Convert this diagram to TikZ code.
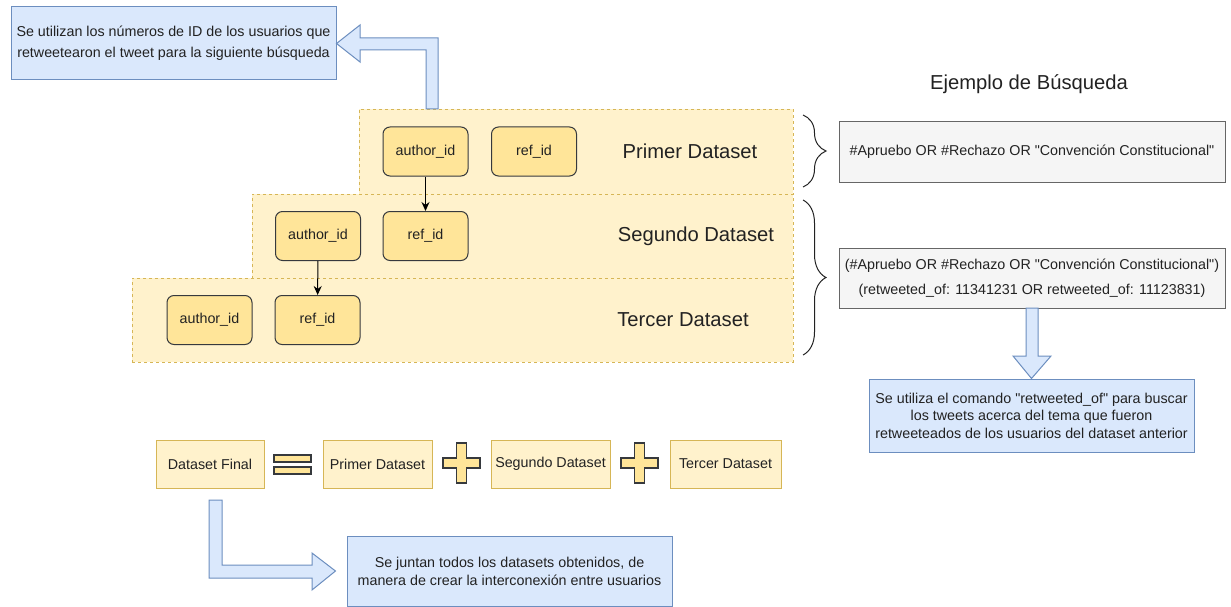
\documentclass[tikz,border=0pt]{standalone}
\usepackage{fontspec}
\setmainfont{Liberation Sans}
\usetikzlibrary{arrows.meta,decorations.pathreplacing}
\definecolor{bandfill}{HTML}{FFF2CC}
\definecolor{bandline}{HTML}{D6B656}
\definecolor{idfill}{HTML}{FFE599}
\definecolor{idline}{HTML}{36393D}
\definecolor{notefill}{HTML}{DAE8FC}
\definecolor{noteline}{HTML}{6C8EBF}
\definecolor{queryfill}{HTML}{F5F5F5}
\definecolor{queryline}{HTML}{666666}
\definecolor{txt}{HTML}{222222}
\tikzset{
  smalltxt/.style={font=\fontsize{14.3}{17.5}\selectfont, text=txt},
  bigtxt/.style={font=\fontsize{20.2}{24}\selectfont, text=txt},
  band/.style={draw=bandline, fill=bandfill, dash pattern=on 3pt off 3pt, line width=0.8pt, minimum height=84pt, inner sep=0pt},
  idbox/.style={smalltxt, draw=idline, fill=idfill, rounded corners=7pt, line width=1pt, minimum width=85pt, minimum height=49pt, inner sep=0pt},
  note/.style={smalltxt, draw=noteline, fill=notefill, line width=1pt, minimum width=325pt, minimum height=73pt, align=center, inner sep=0pt},
  query/.style={smalltxt, draw=queryline, fill=queryfill, line width=1pt, minimum width=386pt, minimum height=60pt, align=center, inner sep=0pt},
  sumbox/.style={smalltxt, draw=bandline, fill=bandfill, line width=1pt, minimum height=48pt, inner sep=0pt},
  fatarrow/.style={draw=noteline, fill=notefill, line width=1pt, line join=miter},
  opsign/.style={draw=idline, fill=idfill, line width=1.2pt},
  bracket/.style={draw=txt, line width=1pt, decorate, decoration={brace, amplitude=23pt}},
  link/.style={-{Stealth[length=9pt,width=8pt]}, line width=1pt, draw=black}
}
\begin{document}
\begin{tikzpicture}[x=1pt,y=-1pt]
  \useasboundingbox (0,0) rectangle (1231,607);

  % the three dataset bands
  \node[band, minimum width=434pt, minimum height=85pt] (band1) at (576,151.5) {};
  \node[band, minimum width=541pt] (band2) at (522.5,236) {};
  \node[band, minimum width=661pt] (band3) at (462.5,320) {};

  \node[idbox] (a1) at (425.5,151.5) {author\_id};
  \node[idbox] (r1) at (534,151.5) {ref\_id};
  \node[idbox] (a2) at (318,236) {author\_id};
  \node[idbox] (r2) at (425.5,236) {ref\_id};
  \node[idbox] (a3) at (209.5,320) {author\_id};
  \node[idbox] (r3) at (317.5,320) {ref\_id};
  \draw[link] (a1) -- (r2);
  \draw[link] (a2) -- (r3);

  \node[bigtxt] (lab1) at (690,151.5) {Primer Dataset};
  \node[bigtxt] (lab2) at (696,236) {Segundo Dataset};
  \node[bigtxt] (lab3) at (683,320) {Tercer Dataset};

  % top note and its arrow
  \node[note, font=\fontsize{14.3}{21}\selectfont] (n1) at (173.5,43.5) {Se utilizan los números de ID de los usuarios que\\retweetearon el tweet para la siguiente búsqueda};
  \draw[fatarrow] (426,109) -- (426,50) -- (360,50) -- (360,62) -- (n1.east) -- (360,25) -- (360,38) -- (438,38) -- (438,109) -- cycle;

  % search examples
  \node[bigtxt] (title) at (1029,84) {Ejemplo de Búsqueda};
  \node[query] (q1) at (1032,152) {\#Apruebo OR \#Rechazo OR \textquotedbl Convención Constitucional\textquotedbl};
  \node[query, font=\fontsize{14.3}{25}\selectfont] (q2) at (1032,278) {(\#Apruebo OR \#Rechazo OR \textquotedbl Convención Constitucional\textquotedbl)\\(retweeted\_of: 11341231 OR retweeted\_of: 11123831)};
  \draw[bracket] (803,115) -- (803,187);
  \draw[bracket] (803,200) -- (803,355);
  \node[note] (n2) at (1031.5,415.5) {Se utiliza el comando \textquotedbl retweeted\_of\textquotedbl{} para buscar\\los tweets acerca del tema que fueron\\retweeteados de los usuarios del dataset anterior};
  \draw[fatarrow] (1026,308) -- (1026,356) -- (1013,356) -- (n2.north) -- (1051,356) -- (1038,356) -- (1038,308) -- cycle;

  % final dataset
  \node[sumbox, minimum width=108pt] (fin) at (210,464) {Dataset Final};
  \node[sumbox, minimum width=109pt] (s1) at (377.5,464) {Primer Dataset};
  \node[sumbox, minimum width=119pt] (s2) at (550.5,464) {Segundo Dataset};
  \node[sumbox, minimum width=111pt] (s3) at (725.5,464) {Tercer Dataset};
  \draw[opsign] (274,455) rectangle (311,462);
  \draw[opsign] (274,467) rectangle (311,474);
  \draw[opsign] (456.5,443) -- (466.5,443) -- (466.5,458) -- (480,458) -- (480,468) -- (466.5,468) -- (466.5,483) -- (456.5,483) -- (456.5,468) -- (443,468) -- (443,458) -- (456.5,458) -- cycle;
  \draw[opsign] (634.5,443) -- (644.5,443) -- (644.5,458) -- (658,458) -- (658,468) -- (644.5,468) -- (644.5,483) -- (634.5,483) -- (634.5,468) -- (621,468) -- (621,458) -- (634.5,458) -- cycle;

  \node[note, minimum height=70pt, font=\fontsize{14.3}{18}\selectfont] (n3) at (509.5,571) {Se juntan todos los datasets obtenidos, de\\manera de crear la interconexión entre usuarios};
  \draw[fatarrow] (209,500) -- (209,578) -- (312,578) -- (312,590) -- ([xshift=-11pt]n3.west) -- (312,553) -- (312,565) -- (222,565) -- (222,500) -- cycle;
\end{tikzpicture}
\end{document}
